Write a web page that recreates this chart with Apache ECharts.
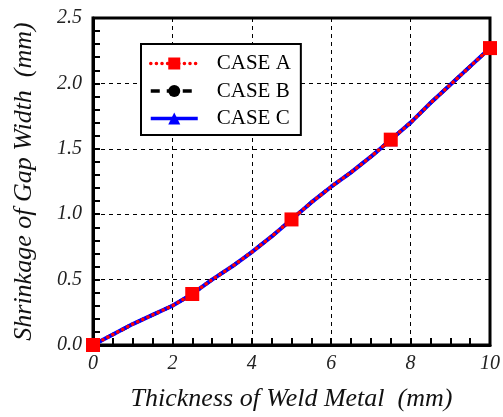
<!DOCTYPE html>
<html>
<head>
<meta charset="utf-8">
<script src="https://cdn.jsdelivr.net/npm/echarts@6/dist/echarts.min.js"></script>
<style>html,body{margin:0;padding:0;background:#fff}#c{width:503px;height:417px}</style>
</head>
<body>
<div id="c"></div>
<script>
var thickness = [0, 0.5, 1, 1.5, 2, 2.5, 3, 3.5, 4, 4.5, 5, 5.5, 6, 6.5, 7, 7.5, 8, 8.5, 9, 9.5, 10];
var caseA = [0, 0.08, 0.16, 0.23, 0.30, 0.39, 0.50, 0.60, 0.71, 0.83, 0.96, 1.09, 1.21, 1.32, 1.44, 1.57, 1.70, 1.85, 1.99, 2.13, 2.27];
var caseB = [0, 0.08, 0.16, 0.23, 0.30, 0.39, 0.50, 0.60, 0.71, 0.83, 0.96, 1.09, 1.21, 1.32, 1.44, 1.57, 1.70, 1.85, 1.99, 2.13, 2.27];
var caseC = [0, 0.08, 0.16, 0.23, 0.30, 0.39, 0.50, 0.60, 0.71, 0.83, 0.96, 1.09, 1.21, 1.32, 1.44, 1.57, 1.70, 1.85, 1.99, 2.13, 2.27];
var markerX = [0, 2.5, 5, 7.5, 10];
var seriesNames = ['CASE A', 'CASE B', 'CASE C'];
var xTitle = 'Thickness of Weld Metal  (mm)';
var yTitle = 'Shrinkage of Gap Width  (mm)';

function pairs(ys) { return thickness.map(function (x, i) { return [x, ys[i]]; }); }
function symSize(s) { return function (v) { return markerX.indexOf(v[0]) >= 0 ? s : 0; }; }

var serif = "'Liberation Serif', 'Times New Roman', serif";
var chart = echarts.init(document.getElementById('c'));
chart.setOption({
  animation: false,
  backgroundColor: '#fff',
  legend: {
    data: seriesNames,
    orient: 'vertical',
    left: 141, top: 44,
    padding: [9, 10, 6, 8],
    itemWidth: 47, itemHeight: 15, itemGap: 6.5,
    borderColor: '#000', borderWidth: 2,
    backgroundColor: '#fff',
    lineStyle: { width: 3.5 },
    textStyle: { fontFamily: serif, fontSize: 21, color: '#000', lineHeight: 20, padding: [0, 0, 0, 14] }
  },
  grid: { left: 93, right: 12, top: 18, bottom: 69, show: true, borderColor: '#000', borderWidth: 3, backgroundColor: 'transparent' },
  xAxis: {
    type: 'value', min: 0, max: 10, interval: 2,
    name: xTitle, nameLocation: 'middle', nameGap: 41,
    nameTextStyle: { fontFamily: serif, fontStyle: 'italic', fontSize: 26, color: '#111' },
    axisLine: { show: true, lineStyle: { color: '#000', width: 3 } },
    axisTick: { inside: true, length: 7, lineStyle: { color: '#000', width: 2 } },
    minorTick: { show: true, splitNumber: 4, length: 7, lineStyle: { color: '#000', width: 2 } },
    axisLabel: { fontFamily: serif, fontStyle: 'italic', fontSize: 20, color: '#222', margin: 9 },
    splitLine: { show: true, lineStyle: { color: '#000', width: 1, type: [4, 4] } }
  },
  yAxis: {
    type: 'value', min: 0, max: 2.5, interval: 0.5,
    name: yTitle, nameLocation: 'middle', nameGap: 56,
    nameTextStyle: { fontFamily: serif, fontStyle: 'italic', fontSize: 26, color: '#111' },
    axisLine: { show: true, lineStyle: { color: '#000', width: 3 } },
    axisTick: { inside: true, length: 7, lineStyle: { color: '#000', width: 2 } },
    minorTick: { show: true, splitNumber: 5, length: 7, lineStyle: { color: '#000', width: 2 } },
    axisLabel: { fontFamily: serif, fontStyle: 'italic', fontSize: 20, color: '#222', margin: 11, formatter: function (v) { return v.toFixed(1); } },
    splitLine: { show: true, lineStyle: { color: '#000', width: 1, type: [4, 4] } }
  },
  series: [
    {
      name: 'CASE B', type: 'line', z: 2, data: pairs(caseB),
      symbol: 'circle', symbolSize: symSize(12), showAllSymbol: true,
      itemStyle: { color: '#000' },
      lineStyle: { color: '#000', width: 3.5, type: [9, 7] }
    },
    {
      name: 'CASE C', type: 'line', z: 3, data: pairs(caseC),
      symbol: 'triangle', symbolSize: symSize(13), showAllSymbol: true,
      itemStyle: { color: '#0000ff' },
      lineStyle: { color: '#0000ff', width: 4, type: 'solid' }
    },
    {
      name: 'CASE A', type: 'line', z: 4, data: pairs(caseA),
      symbol: 'rect', symbolSize: symSize(14), showAllSymbol: true,
      itemStyle: { color: '#ff0000' },
      lineStyle: { color: '#ff0000', width: 3.5, type: [0.1, 5.5], cap: 'round' }
    }
  ]
});
</script>
</body>
</html>
